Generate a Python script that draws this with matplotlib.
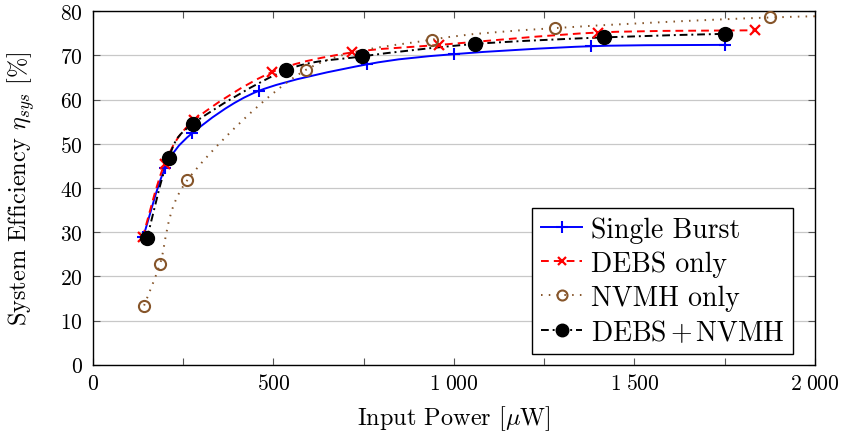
import matplotlib
matplotlib.use('Agg')
import matplotlib.pyplot as plt
import numpy as np
from matplotlib.path import Path
from matplotlib.patches import PathPatch
from matplotlib.lines import Line2D
from matplotlib.ticker import MultipleLocator, FixedLocator, FixedFormatter

plt.rcParams['font.family'] = 'cmr10'
plt.rcParams['mathtext.fontset'] = 'cm'
plt.rcParams['axes.unicode_minus'] = False
plt.rcParams['axes.formatter.use_mathtext'] = True

# Input power [uW] / system efficiency [%]
x_single = [140, 200, 275, 460, 760, 1000, 1380, 1750]
y_single = [29.0, 44.5, 52.4, 62.0, 68.0, 70.3, 72.1, 72.4]

x_debs = [138, 199, 280, 495, 718, 960, 1400, 1835]
y_debs = [28.8, 45.5, 55.3, 66.2, 70.7, 72.4, 75.2, 75.7]

x_nvmh = [142, 186, 261, 589, 940, 1280, 1875, 2500]
y_nvmh = [13.4, 22.8, 41.7, 66.7, 73.6, 76.2, 78.6, 79.6]

x_both = [150, 210, 278, 535, 746, 1058, 1416, 1751]
y_both = [28.6, 46.9, 54.6, 66.7, 69.8, 72.6, 74.1, 74.9]

labels = ['Single Burst', 'DEBS only', 'NVMH only', r'DEBS$\,$+$\,$NVMH']
x_ticks = [0, 500, 1000, 1500, 2000]
x_ticklabels = ['$0$', '$500$', r'$1\;000$', r'$1\;500$', r'$2\;000$']

BROWN = '#86552a'


def smooth_path(xs, ys, tension=0.1526):
    # pgfplots-like "smooth": cubic bezier through the points
    p = np.column_stack([xs, ys]).astype(float)
    n = len(p)
    verts = [p[0]]
    codes = [Path.MOVETO]
    for i in range(n - 1):
        d0 = p[i + 1] - p[i - 1] if i > 0 else p[1] - p[0]
        d1 = p[i + 2] - p[i] if i + 2 < n else p[i + 1] - p[i]
        verts += [p[i] + tension * d0, p[i + 1] - tension * d1, p[i + 1]]
        codes += [Path.CURVE4] * 3
    return Path(verts, codes)


fig = plt.figure(figsize=(8.44, 4.35), dpi=100)
ax = fig.add_axes([0.110, 0.1593, 0.8556, 0.8124])

series = [
    (x_single, y_single, dict(color='#0000ff', linestyle='-', marker='+', ms=9, mew=1.5, mfc='#0000ff')),
    (x_debs, y_debs, dict(color='#ff0000', linestyle=(0, (4, 2.6)), marker='x', ms=6.5, mew=1.6, mfc='#ff0000')),
    (x_nvmh, y_nvmh, dict(color=BROWN, linestyle=(0, (0.8, 3.2)), marker='o', ms=8, mew=1.5, mfc='none')),
    (x_both, y_both, dict(color='black', linestyle=(0, (4, 2, 1, 2)), marker='o', ms=10, mew=1, mfc='black')),
]

handles = []
for (xs, ys, st), lab in zip(series, labels):
    patch = PathPatch(smooth_path(xs, ys), fill=False, edgecolor=st['color'],
                      linestyle=st['linestyle'], linewidth=1.4, zorder=3)
    ax.add_patch(patch)
    ax.plot(xs, ys, linestyle='none', marker=st['marker'], ms=st['ms'], mew=st['mew'],
            color=st['color'], mfc=st['mfc'], zorder=4)
    handles.append(Line2D([], [], color=st['color'], linestyle=st['linestyle'], linewidth=1.4,
                          marker=st['marker'], ms=st['ms'] * 0.9, mew=st['mew'], mfc=st['mfc']))

ax.set_xlim(0, 2000)
ax.set_ylim(0, 80)
ax.xaxis.set_major_locator(FixedLocator(x_ticks))
ax.xaxis.set_major_formatter(FixedFormatter(x_ticklabels))
ax.xaxis.set_minor_locator(MultipleLocator(250))
ax.yaxis.set_major_locator(MultipleLocator(10))
ax.tick_params(which='both', direction='in', top=True, right=True, length=5,
               width=0.8, color='#555555', labelsize=15.5)
ax.tick_params(axis='x', pad=6)
ax.tick_params(axis='y', pad=7)
ax.grid(axis='y', color='#c8c8c8', linewidth=0.9)
ax.set_axisbelow(True)
for s in ax.spines.values():
    s.set_linewidth(1.0)

ax.set_xlabel(r'Input Power [$\mu$W]', fontsize=17.5, labelpad=7)
ax.set_ylabel(r'System Efficiency $\eta_{sys}$ [%]', fontsize=17.5)
ax.yaxis.set_label_coords(-0.077, 0.5)

leg = ax.legend(handles, labels, loc='lower right', bbox_to_anchor=(0.9695, 0.03),
                fontsize=20, frameon=True, fancybox=False, framealpha=1,
                edgecolor='black', handlelength=1.5, handletextpad=0.3,
                labelspacing=0.28, borderpad=0.3, borderaxespad=0)
leg.get_frame().set_linewidth(1.0)

fig.savefig('out.png', dpi=100)
